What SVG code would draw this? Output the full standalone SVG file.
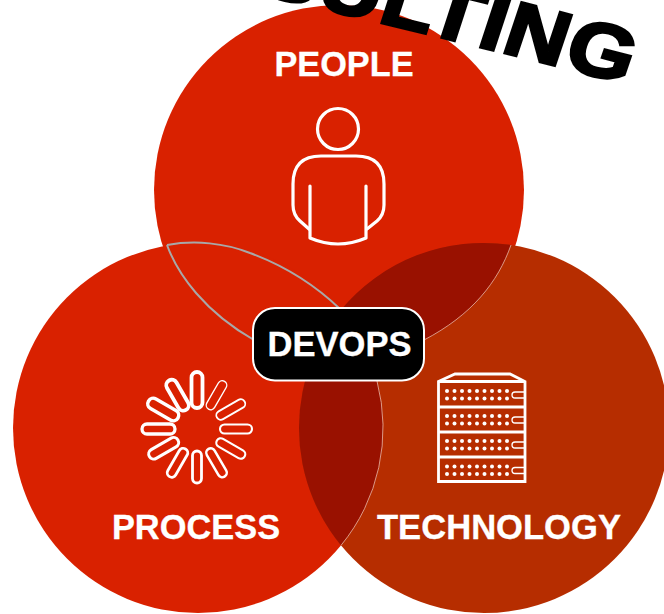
<svg xmlns="http://www.w3.org/2000/svg" width="664" height="614" viewBox="0 0 664 614">
<style>
.lbl{font-family:"Liberation Sans",Arial,sans-serif;font-weight:700;fill:#fff;text-anchor:middle;stroke:#fff;stroke-width:.3}
.ic{fill:none;stroke:#fff;stroke-linecap:round;stroke-linejoin:round}
.sp{fill:none;stroke:#fff}
.dot{fill:#fff}
.dark{fill:#991100}
.gray{fill:none;stroke:#a8a8a8;stroke-width:2}
.hair{fill:none;stroke:#e8b8a8;stroke-width:.8}
</style>
<defs>
<clipPath id="cr"><circle cx="484" cy="428" r="185"/></clipPath>
<filter id="soft" x="-5%" y="-20%" width="110%" height="140%"><feGaussianBlur stdDeviation="0.6"/></filter>
<path id="arc" d="M57 -50Q348 24 574 93"/>
<g id="row"><circle cx="447" cy="0" r="2"/><circle cx="454.500" cy="0" r="2"/><circle cx="462" cy="0" r="2"/><circle cx="469.500" cy="0" r="2"/><circle cx="477" cy="0" r="2"/><circle cx="484.500" cy="0" r="2"/><circle cx="492" cy="0" r="2"/><circle cx="499.500" cy="0" r="2"/><circle cx="507" cy="0" r="2"/></g>
<g id="shelf"><use href="#row" y="0" class="dot"/><use href="#row" y="7.500" class="dot"/><path d="M524 1H515a3 3 0 0 0 0 6H524" fill="none" stroke="#fff" stroke-width="1.300"/></g>
</defs>
<rect width="664" height="614" fill="#fff"/>
<g id="node-people"><circle cx="339" cy="190" r="185" fill="#d92100"/></g>
<g id="node-process"><circle cx="198" cy="428" r="185" fill="#d92100"/></g>
<g id="node-technology"><circle cx="484" cy="428" r="185" fill="#b62d00"/>
<g clip-path="url(#cr)"><circle class="dark" cx="198" cy="428" r="185"/></g>
<path class="dark" d="M511 245A185 185 0 0 0 340 311L426 339C472 315 498 282 511 245Z"/></g>
<g id="connectors">
<path class="gray" d="M167 245C195 240 225 243 250 253C285 266 315 285 340 309"/>
<path class="gray" d="M167 245C178 275 205 312 254 340"/>
<path class="hair" d="M377 381A185 185 0 0 1 341 545.400"/>
<path class="hair" d="M511 245C498 282 472 315 424 340"/>
</g>
<text id="title" transform="scale(1.15 1)" font-family="Liberation Sans, Arial, sans-serif" font-weight="700" font-size="76" letter-spacing="1" fill="#000" stroke="#000" stroke-width="3" filter="url(#soft)"><textPath href="#arc" startOffset="0">CONSULTING</textPath></text>
<text class="lbl" x="344" y="76" font-size="34.300">PEOPLE</text>
<g class="ic" stroke-width="3.200" id="icon-people">
<circle cx="338" cy="129" r="20.500"/>
<path d="M309 229L300 221Q293 215 293 205V184Q293 156 321 156H356Q384 156 384 184V205Q384 215 377 221L367 229"/>
<path d="M310 186V238Q338 250 366 238V186"/>
</g>
<g id="icon-process" transform="translate(197 429)">
<rect class="sp" x="-5.500" y="-57" width="11" height="36" rx="5.500" stroke-width="3.800"/>
<rect class="sp" x="-4.500" y="-55" width="9" height="32" rx="4.500" stroke-width="1.400" transform="rotate(30)"/>
<rect class="sp" x="-4.500" y="-55" width="9" height="32" rx="4.500" stroke-width="1.800" transform="rotate(60)"/>
<rect class="sp" x="-4.500" y="-55" width="9" height="32" rx="4.500" stroke-width="2.100" transform="rotate(90)"/>
<rect class="sp" x="-4.500" y="-55" width="9" height="32" rx="4.500" stroke-width="2.200" transform="rotate(120)"/>
<rect class="sp" x="-4.500" y="-55" width="9" height="32" rx="4.500" stroke-width="2.500" transform="rotate(150)"/>
<rect class="sp" x="-4.500" y="-54" width="9" height="32" rx="4.500" stroke-width="2.800" transform="rotate(180)"/>
<rect class="sp" x="-4.500" y="-55" width="9" height="32" rx="4.500" stroke-width="2.800" transform="rotate(210)"/>
<rect class="sp" x="-5" y="-55" width="10" height="33" rx="5" stroke-width="3" transform="rotate(240)"/>
<rect class="sp" x="-5" y="-55" width="10" height="33" rx="5" stroke-width="3.300" transform="rotate(270)"/>
<rect class="sp" x="-5.500" y="-56" width="11" height="34" rx="5.500" stroke-width="3.500" transform="rotate(300)"/>
<rect class="sp" x="-5.500" y="-56" width="11" height="34" rx="5.500" stroke-width="3.800" transform="rotate(330)"/>
</g>
<text class="lbl" x="196" y="539" font-size="34.400">PROCESS</text>
<g id="icon-technology">
<path d="M438.500 381.500L455 374H510L525 381.500V481.500H438.500ZM438.500 381.500H525M438.500 407H525M438.500 432H525M438.500 457H525" fill="none" stroke="#fff" stroke-width="2.800"/>
<use href="#shelf" y="391"/><use href="#shelf" y="416"/><use href="#shelf" y="441"/><use href="#shelf" y="466.500"/>
</g>
<text class="lbl" x="499" y="538.500" font-size="34.600">TECHNOLOGY</text>
<g id="node-devops">
<rect x="253" y="308" width="171" height="72.500" rx="22" fill="#000" stroke="#fff" stroke-width="2"/>
<text class="lbl" x="339.500" y="355.500" font-size="34.600">DEVOPS</text>
</g>
</svg>
